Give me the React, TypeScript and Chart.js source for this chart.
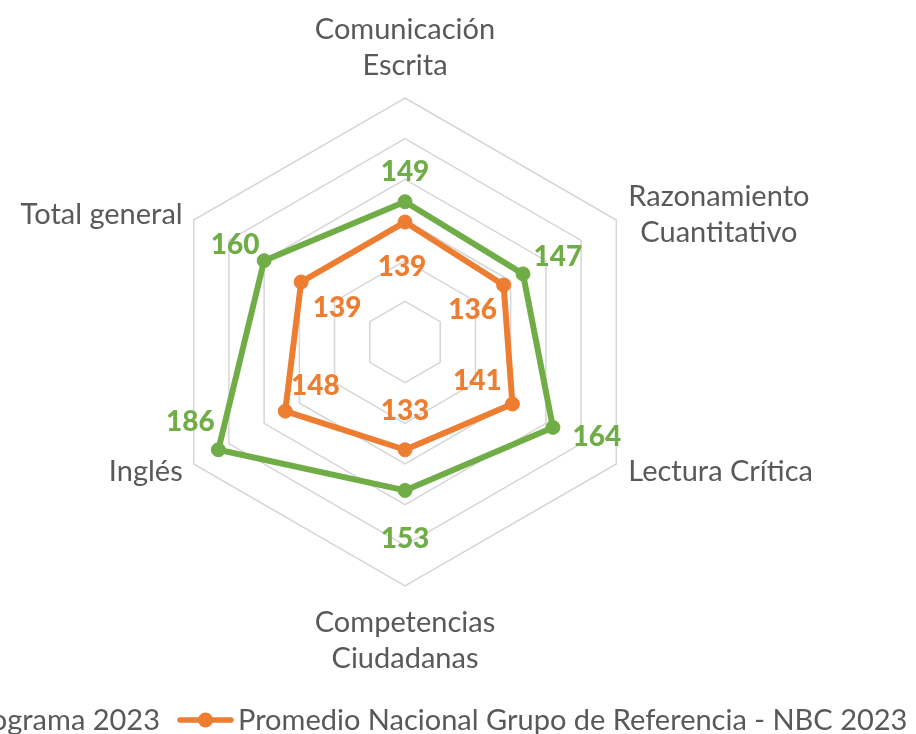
import React, { useEffect, useRef } from 'react';
import { Chart, registerables } from 'chart.js';

Chart.register(...registerables);

const categories: string[][] = [
  ['Comunicación', 'Escrita'],
  ['Razonamiento', 'Cuantitativo'],
  ['Lectura Crítica'],
  ['Competencias', 'Ciudadanas'],
  ['Inglés'],
  ['Total general'],
];
const seriesNames = ['Promedio Programa 2023', 'Promedio Nacional Grupo de Referencia - NBC 2023'];
const programa2023 = [149, 147, 164, 153, 186, 160];
const nacionalNBC2023 = [139, 136, 141, 133, 148, 139];
const axisMin = 80;
const axisMax = 200;
const axisStep = 20;

const GREEN = '#70AD47';
const ORANGE = '#ED7D31';
const TEXT = '#595959';
const FONT = 'Lato, "Open Sans", sans-serif';

// styling: nudges of value labels relative to their points
const greenLabelNudge = [[0, -31], [35, -18], [44, 9], [0, 47], [-28, -29], [-29, -17]];
const orangeLabelNudge = [[-3, 44], [-31, 24], [-35, -24], [0, -40], [30, -26], [36, 25]];

const overlay = {
  id: 'overlay',
  afterDraw(chart: any) {
    const ctx = chart.ctx as CanvasRenderingContext2D;
    const scale = chart.scales.r;
    const cx = scale.xCenter;
    const cy = scale.yCenter;
    ctx.save();

    // value labels
    const vfs = 28;
    ctx.font = `900 ${vfs}px ${FONT}`;
    ctx.textAlign = 'center';
    ctx.textBaseline = 'alphabetic';
    chart.data.datasets.forEach((ds: any, di: number) => {
      const meta = chart.getDatasetMeta(di);
      const nudges = di === 0 ? greenLabelNudge : orangeLabelNudge;
      ctx.fillStyle = ds.borderColor;
      meta.data.forEach((pt: any, i: number) => {
        const [dx, dy] = nudges[i];
        ctx.fillText(String(ds.data[i]), pt.x + dx, pt.y + dy + vfs * 0.36);
      });
    });

    // category labels
    const fs = 29;
    const lh = 36;
    const capHalf = fs * 0.36;
    ctx.font = `${fs}px ${FONT}`;
    ctx.fillStyle = TEXT;
    ctx.textAlign = 'center';
    categories.forEach((lines, i) => {
      const v = scale.getPointPosition(i, scale.drawingArea);
      const maxW = Math.max(...lines.map((l) => ctx.measureText(l).width));
      const n = lines.length;
      if (Math.abs(v.x - cx) < 1) {
        if (v.y < cy) {
          lines.forEach((l, k) => ctx.fillText(l, v.x, v.y - 23 - (n - 1 - k) * lh));
        } else {
          lines.forEach((l, k) => ctx.fillText(l, v.x, v.y + 46 + k * lh));
        }
      } else {
        const right = v.x > cx;
        const bx = right ? v.x + 12 + maxW / 2 : v.x - 11 - maxW / 2;
        const centerY = v.y + (v.y < cy ? -6 : 7);
        lines.forEach((l, k) => {
          const lc = centerY + (k - (n - 1) / 2) * lh;
          ctx.fillText(l, bx, lc + capHalf);
        });
      }
    });

    // legend
    const legendY = 720;
    const markerW = 55;
    const gapM = 5;
    const gapItem = 18;
    const anchorTextX = 238;
    const w0 = ctx.measureText(seriesNames[0]).width;
    let x = anchorTextX - gapM - markerW - gapItem - w0 - gapM - markerW;
    chart.data.datasets.forEach((ds: any, di: number) => {
      const color = ds.borderColor;
      ctx.strokeStyle = color;
      ctx.lineWidth = 5.5;
      ctx.lineCap = 'round';
      ctx.beginPath();
      ctx.moveTo(x + 2, legendY);
      ctx.lineTo(x + markerW - 2, legendY);
      ctx.stroke();
      ctx.fillStyle = color;
      ctx.beginPath();
      ctx.arc(x + markerW / 2, legendY, 7.5, 0, Math.PI * 2);
      ctx.fill();
      x += markerW + gapM;
      ctx.fillStyle = TEXT;
      ctx.textAlign = 'left';
      ctx.fillText(seriesNames[di], x, legendY + capHalf);
      x += ctx.measureText(seriesNames[di]).width + gapItem;
    });

    ctx.restore();
  },
};

export default function App() {
  const ref = useRef<HTMLCanvasElement | null>(null);
  useEffect(() => {
    if (!ref.current) return;
    const chart = new Chart(ref.current, {
      type: 'radar',
      data: {
        labels: categories,
        datasets: [
          {
            label: seriesNames[0],
            data: programa2023,
            borderColor: GREEN,
            backgroundColor: GREEN,
            pointBackgroundColor: GREEN,
            pointBorderColor: GREEN,
            borderWidth: 6,
            pointRadius: 7,
            pointBorderWidth: 1,
            borderJoinStyle: 'round',
            fill: false,
          },
          {
            label: seriesNames[1],
            data: nacionalNBC2023,
            borderColor: ORANGE,
            backgroundColor: ORANGE,
            pointBackgroundColor: ORANGE,
            pointBorderColor: ORANGE,
            borderWidth: 6,
            pointRadius: 7,
            pointBorderWidth: 1,
            borderJoinStyle: 'round',
            fill: false,
          },
        ],
      },
      options: {
        responsive: false,
        animation: false,
        layout: { padding: { left: 161, right: 267, top: 98, bottom: 148 } },
        plugins: { legend: { display: false }, tooltip: { enabled: false } },
        elements: { line: { tension: 0 } },
        scales: {
          r: {
            min: axisMin,
            max: axisMax,
            ticks: { display: false, stepSize: axisStep },
            grid: { color: '#D6D6D6', lineWidth: 1.5 },
            angleLines: { display: false },
            pointLabels: { display: false },
          },
        },
      },
      plugins: [overlay],
    } as any);
    return () => chart.destroy();
  }, []);
  return (
    <div style={{ position: 'absolute', left: 0, top: 0, width: 916, height: 734, background: '#fff' }}>
      <canvas ref={ref} width={916} height={734} style={{ display: 'block' }} />
    </div>
  );
}
